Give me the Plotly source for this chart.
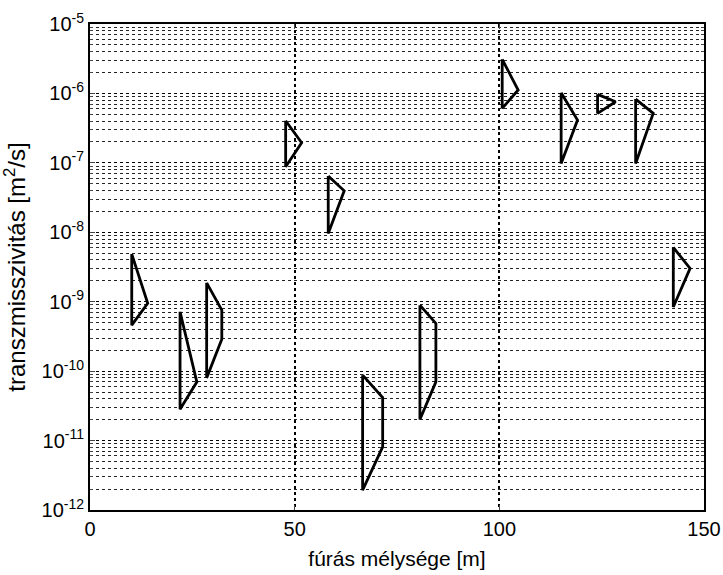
import plotly.graph_objects as go

# Depth (m) of the vertical (left) side and of the right vertices of each interval shape
left_depth = [10.2, 22.0, 28.5, 47.8, 58.2, 66.6, 80.6, 100.7, 115.1, 124.0, 133.3, 142.5]
right_depth = [14.1, 26.1, 32.2, 51.7, 62.1, 71.5, 84.5, 104.6, 119.1, 128.4, 137.6, 146.6]
# Transmissivity values (m^2/s)
t_top = [4.85e-9, 7.15e-10, 1.87e-9, 4.04e-7, 6.45e-8, 8.75e-11, 8.93e-10, 3.1e-6, 1.02e-6, 9.7e-7, 8.3e-7, 6.05e-9]
t_upper = [9.5e-10, 7.0e-11, 7.57e-10, 1.95e-7, 3.96e-8, 4.18e-11, 4.87e-10, 1.12e-6, 4.14e-7, 7.6e-7, 5.17e-7, 3.02e-9]
t_lower = [9.5e-10, 7.0e-11, 2.89e-10, 1.95e-7, 3.96e-8, 8.1e-12, 7.0e-11, 1.12e-6, 4.14e-7, 7.6e-7, 5.17e-7, 3.02e-9]
t_bottom = [4.6e-10, 2.83e-11, 8.0e-11, 8.8e-8, 9.6e-9, 1.93e-12, 2.01e-11, 6.1e-7, 9.8e-8, 5.17e-7, 9.8e-8, 8.4e-10]

x_ticks = [0, 50, 100, 150]
y_tickvals = [1e-12, 1e-11, 1e-10, 1e-9, 1e-8, 1e-7, 1e-6, 1e-5]
y_ticktext = ["10<sup>-12</sup>", "10<sup>-11</sup>", "10<sup>-10</sup>", "10<sup>-9</sup>",
              "10<sup>-8</sup>", "10<sup>-7</sup>", "10<sup>-6</sup>", "10<sup>-5</sup>"]

fig = go.Figure()
for i in range(len(left_depth)):
    xs = [left_depth[i], right_depth[i], right_depth[i], left_depth[i], left_depth[i]]
    ys = [t_top[i], t_upper[i], t_lower[i], t_bottom[i], t_top[i]]
    fig.add_trace(go.Scatter(x=xs, y=ys, mode="lines",
                             line=dict(color="black", width=2.8),
                             showlegend=False, hoverinfo="skip"))

font = "Liberation Sans, Arial, sans-serif"
fig.update_layout(
    width=723, height=575,
    margin=dict(l=90, r=19, t=24, b=65),
    paper_bgcolor="white", plot_bgcolor="white",
    font=dict(family=font, size=18, color="black"),
)
fig.update_xaxes(
    range=[0, 150], tickvals=x_ticks, ticks="inside", ticklen=5,
    showline=True, linecolor="black", linewidth=2, mirror="ticks",
    showgrid=True, gridcolor="black", gridwidth=1.5, griddash="dot",
    zeroline=False, tickfont=dict(size=20), automargin=False,
    title=dict(text="fúrás mélysége [m]", font=dict(size=21), standoff=12),
)
fig.update_yaxes(
    type="log", range=[-12, -5], tickvals=y_tickvals, ticktext=y_ticktext,
    ticks="inside", ticklen=5,
    showline=True, linecolor="black", linewidth=2, mirror="ticks",
    showgrid=True, gridcolor="black", gridwidth=1, griddash="dot",
    minor=dict(dtick="D1", showgrid=True, gridcolor="#222", gridwidth=1,
               griddash="dot", ticks="inside", ticklen=3),
    zeroline=False, tickfont=dict(size=20), automargin=False,
    title=dict(text="transzmisszivitás [m<sup>2</sup>/s]", font=dict(size=24), standoff=10),
)
fig.write_html(
    "out.html",
    config={"displayModeBar": False},
    post_script="document.body.style.margin='0';document.body.style.overflow='hidden';",
)
